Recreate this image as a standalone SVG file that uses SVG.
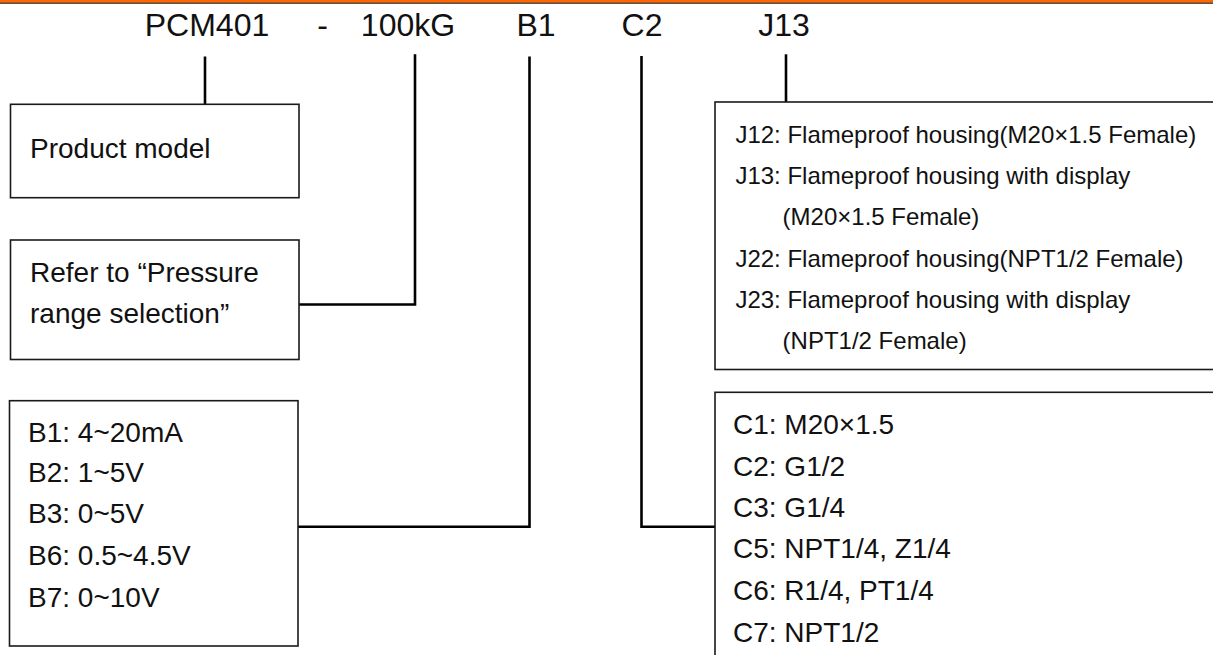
<svg xmlns="http://www.w3.org/2000/svg" width="1213" height="655" viewBox="0 0 1213 655">
<style>
.bg{fill:#ffffff}
.box{fill:#ffffff;stroke:#1a1a1a;stroke-width:1.6}
.conn{fill:none;stroke:#000000;stroke-width:2.6;stroke-linejoin:miter;stroke-linecap:butt}
.top{font-family:"Liberation Sans",Arial,sans-serif;font-size:32px;fill:#111;text-anchor:middle}
.t28{font-family:"Liberation Sans",Arial,sans-serif;font-size:28px;fill:#111}
.t24{font-family:"Liberation Sans",Arial,sans-serif;font-size:24px;fill:#111}
</style>
<rect class="bg" x="0" y="0" width="1213" height="655"/>
<g id="header-bar">
<rect x="0" y="0" width="1213" height="2.6" fill="#FF6600"/>
<line x1="0" y1="3.1" x2="1213" y2="3.1" stroke="#3a1600" stroke-width="1.2"/>
</g>
<g id="code-labels">
<text class="top" x="207" y="36">PCM401</text>
<text class="top" x="322.5" y="36">-</text>
<text class="top" x="408" y="36">100kG</text>
<text class="top" x="536" y="36">B1</text>
<text class="top" x="642" y="36">C2</text>
<text class="top" x="784" y="36">J13</text>
</g>
<g id="connectors">
<path class="conn" d="M205,56.5 V104.3"/>
<path class="conn" d="M415,54.3 V304.5 H299"/>
<path class="conn" d="M529.5,56.5 V526.7 H298"/>
<path class="conn" d="M641.5,56 V526.7 H715"/>
<path class="conn" d="M786,54.3 V102"/>
</g>
<g id="node-product-model">
<rect class="box" x="10.5" y="104.3" width="288.5" height="93.4"/>
<text class="t28" x="30" y="158.3">Product model</text>
</g>
<g id="node-pressure-range">
<rect class="box" x="10.5" y="240" width="288.5" height="119.5"/>
<text class="t28" x="30" y="281.7">Refer to “Pressure</text>
<text class="t28" x="30" y="323">range selection”</text>
</g>
<g id="node-output">
<rect class="box" x="9.5" y="400.7" width="288.5" height="245.3"/>
<text class="t28" x="28" y="441.7">B1: 4~20mA</text>
<text class="t28" x="28" y="481.7">B2: 1~5V</text>
<text class="t28" x="28" y="523.3">B3: 0~5V</text>
<text class="t28" x="28" y="565">B6: 0.5~4.5V</text>
<text class="t28" x="28" y="606.7">B7: 0~10V</text>
</g>
<g id="node-housing">
<rect class="box" x="715" y="102" width="510" height="267.5"/>
<text class="t24" x="735.4" y="142.7">J12: Flameproof housing(M20×1.5 Female)</text>
<text class="t24" x="735.4" y="183.6">J13: Flameproof housing with display</text>
<text class="t24" x="782.6" y="225">(M20×1.5 Female)</text>
<text class="t24" x="735.4" y="267">J22: Flameproof housing(NPT1/2 Female)</text>
<text class="t24" x="735.4" y="307.8">J23: Flameproof housing with display</text>
<text class="t24" x="782.6" y="349.3">(NPT1/2 Female)</text>
</g>
<g id="node-connection">
<rect class="box" x="715" y="392.3" width="510" height="300"/>
<text class="t28" x="733" y="434.3">C1: M20×1.5</text>
<text class="t28" x="733" y="475.5">C2: G1/2</text>
<text class="t28" x="733" y="516.8">C3: G1/4</text>
<text class="t28" x="733" y="558.3">C5: NPT1/4, Z1/4</text>
<text class="t28" x="733" y="600">C6: R1/4, PT1/4</text>
<text class="t28" x="733" y="641.7">C7: NPT1/2</text>
</g>
</svg>
